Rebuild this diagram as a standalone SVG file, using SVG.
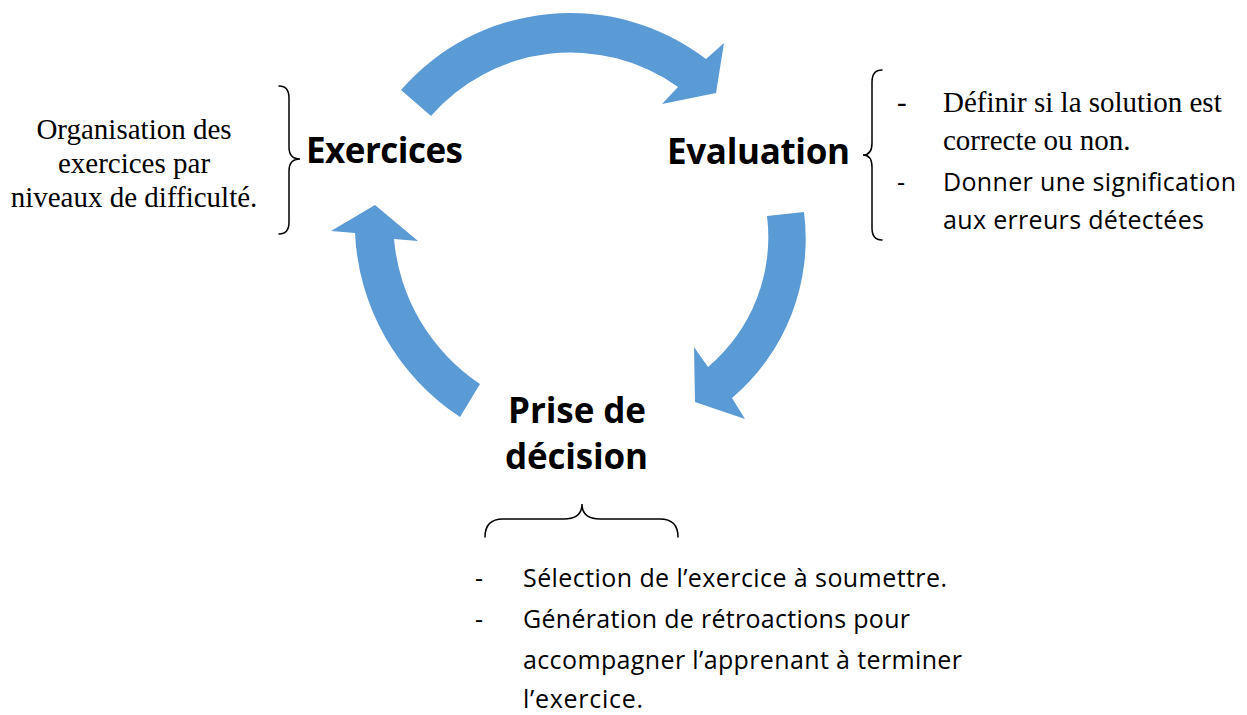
<svg xmlns="http://www.w3.org/2000/svg" width="1247" height="715" viewBox="0 0 1247 715">
<style>
.arrow{fill:#5B9BD5;stroke:none}
.brace{fill:none;stroke:#000;stroke-width:1.5;stroke-linecap:round}
.title{font-family:"Open Sans","Noto Sans",sans-serif;font-weight:bold;font-size:35px;fill:#000}
.sans{font-family:"Open Sans","Noto Sans",sans-serif;font-size:25px;fill:#000}
.serif{font-family:"Liberation Serif","Times New Roman",serif;font-size:29px;fill:#000}
</style>
<rect width="1247" height="715" fill="#fff"/>
<g id="connectors">
<path class="arrow" d="M401,90 A224,224 0 0 1 706,59 L724,43 L716,93 L662,104 L678,87 A185,185 0 0 0 431,116 Z"/>
<path class="arrow" d="M767,216 L804,212 A209,209 0 0 1 732,398 L745,419 L695,402 L694,347 L708,367 A170,170 0 0 0 767,216 Z"/>
<path class="arrow" d="M480,384 L460,417 A233,233 0 0 1 355,233 L331,231 L375,205 L418,241 L394,239 A195,195 0 0 0 480,384 Z"/>
</g>
<g id="node-exercices">
<text class="title" x="306" y="163" textLength="157">Exercices</text>
<path class="brace" d="M279,86 Q289,86 289,98 L289,147 Q289,159 300,159 Q289,159 289,171 L289,222 Q289,234 279,234"/>
<text class="serif" x="134" y="139" text-anchor="middle">Organisation des</text>
<text class="serif" x="134" y="173" text-anchor="middle">exercices par</text>
<text class="serif" x="134" y="207" text-anchor="middle">niveaux de difficulté.</text>
</g>
<g id="node-evaluation">
<text class="title" x="667" y="164" textLength="183">Evaluation</text>
<path class="brace" d="M882,70 Q872,70 872,82 L872,143 Q872,155 863,155 Q872,155 872,167 L872,228 Q872,240 882,240"/>
<text class="serif" x="897" y="112">-</text>
<text class="serif" x="943" y="112">Définir si la solution est</text>
<text class="serif" x="943" y="150">correcte ou non.</text>
<text class="sans" x="897" y="191">-</text>
<text class="sans" x="943" y="191" textLength="293">Donner une signification</text>
<text class="sans" x="943" y="229" textLength="261">aux erreurs détectées</text>
</g>
<g id="node-decision">
<text class="title" x="508" y="423" textLength="138">Prise de</text>
<text class="title" x="505" y="469" textLength="143">décision</text>
<path class="brace" d="M485,537 Q485,519 503,519 L564,519 Q582,519 582,504 Q582,519 600,519 L660,519 Q678,519 678,537"/>
<text class="sans" x="475" y="587">-</text>
<text class="sans" x="523" y="587" textLength="424">Sélection de l’exercice à soumettre.</text>
<text class="sans" x="475" y="628">-</text>
<text class="sans" x="523" y="628" textLength="387">Génération de rétroactions pour</text>
<text class="sans" x="523" y="669" textLength="439">accompagner l’apprenant à terminer</text>
<text class="sans" x="523" y="708" textLength="120">l’exercice.</text>
</g>
</svg>
